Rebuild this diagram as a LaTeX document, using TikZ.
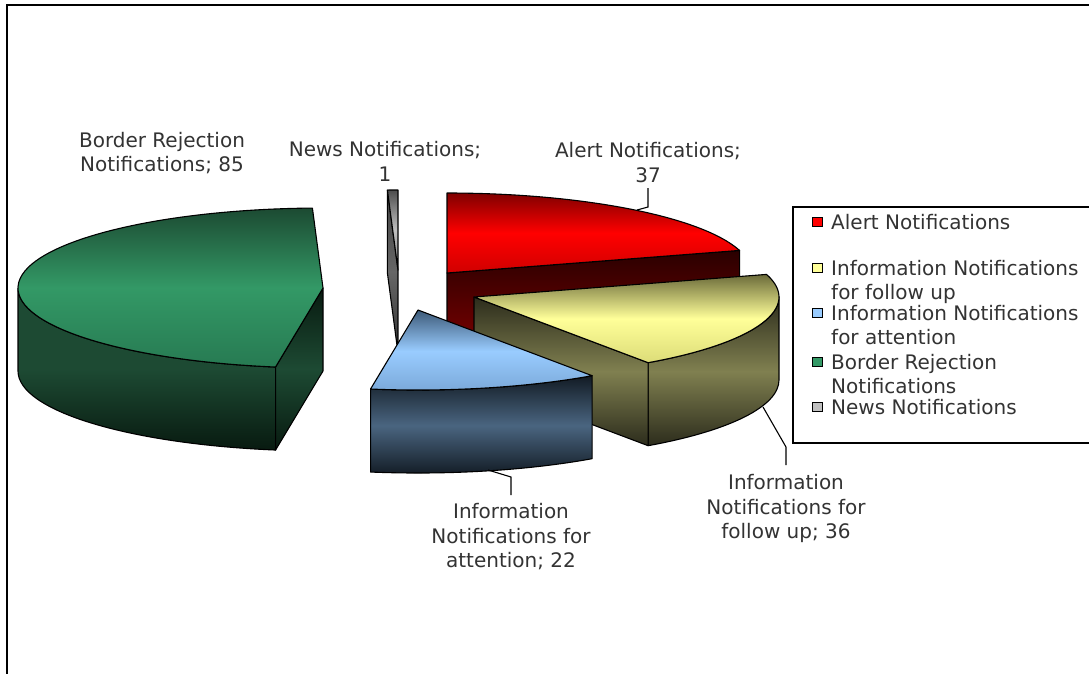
\documentclass[tikz,border=0pt]{standalone}
\usepackage{fontspec}
\setmainfont{DejaVu Sans}
\usetikzlibrary{calc}

\definecolor{redtop}{HTML}{800000}
\definecolor{redmid}{HTML}{FF0000}
\definecolor{redlow}{HTML}{D00000}
\definecolor{redsideA}{HTML}{2A0000}
\definecolor{redsideB}{HTML}{800000}
\definecolor{yeltop}{HTML}{6B6B3A}
\definecolor{yelmid}{HTML}{FFFF99}
\definecolor{yellow2}{HTML}{DCDC78}
\definecolor{yelside}{HTML}{808050}
\definecolor{yeldark}{HTML}{2C2C1C}
\definecolor{blutop}{HTML}{3D5A78}
\definecolor{blumid}{HTML}{99CCFF}
\definecolor{blulow}{HTML}{7AA8D8}
\definecolor{bluside}{HTML}{4A6580}
\definecolor{bludark}{HTML}{121B24}
\definecolor{grntop}{HTML}{1C4A32}
\definecolor{grnmid}{HTML}{339966}
\definecolor{grnlow}{HTML}{277A52}
\definecolor{grnside}{HTML}{1D4A33}
\definecolor{grndark}{HTML}{081A10}
\definecolor{graymid}{HTML}{C0C0C0}
\definecolor{txtgray}{HTML}{333333}

\begin{document}
\begin{tikzpicture}[x=1pt,y=-1pt]

\tikzset{
    slice/.style = {draw=black, line width=1.1pt, line join=round},
    rim/.style = {x radius=305, y radius=80},
    lbl/.style = {text=txtgray, font=\fontsize{20}{24.5}\selectfont, align=center, inner sep=0pt, anchor=north},
    keytxt/.style = {text=txtgray, font=\fontsize{20}{23.5}\selectfont, align=left, inner sep=0pt, anchor=north west},
    keybox/.style = {draw=black, line width=1pt, minimum width=10pt, minimum height=9pt, inner sep=0pt},
    pin/.style = {draw=black, line width=1.1pt}
}

\useasboundingbox (0,0) rectangle (1089,673);
\fill[white] (0,0) rectangle (1089,673);

% frame
\draw[line width=2pt] (1095,5) -- (7,5) -- (7,680);

% Border Rejection
\coordinate (g-c) at (323,288);
\path[slice, top color=grnside, bottom color=grndark, middle color=grnside]
    ($(g-c)+(-180:305 and 80)$) arc[rim, start angle=-180, end angle=-261.05]
    -- ++(0,83) arc[rim, start angle=-261.05, end angle=-180] -- cycle;
\path[slice, top color=grndark, bottom color=grndark, middle color=grnside]
    (g-c) -- ($(g-c)+(-261.05:305 and 80)$) -- ++(0,83) -- ($(g-c)+(0,83)$) -- cycle;
\path[slice, top color=grntop, bottom color=grnlow, middle color=grnmid]
    (g-c) -- ($(g-c)+(-91.99:305 and 80)$) arc[rim, start angle=-91.99, end angle=-261.05] -- cycle;

% News
\coordinate (n-c) at (398,270);
\path[slice, top color=black!75, bottom color=black!80, middle color=black!60]
    (n-c) -- ($(n-c)+(-91.99:305 and 80)$) -- ++(0,83) -- ($(n-c)+(0,83)$) -- cycle;
\path[slice, top color=black!70, bottom color=black!50, middle color=graymid]
    (n-c) -- ($(n-c)+(-90:305 and 80)$) arc[rim, start angle=-90, end angle=-91.99] -- cycle;

% Alert
\coordinate (a-c) at (447,273);
\path[slice, top color=redsideA, bottom color=redsideB]
    (a-c) -- ($(a-c)+(-16.41:305 and 80)$) -- ++(0,83) -- ($(a-c)+(0,83)$) -- cycle;
\path[slice, top color=redtop, bottom color=redlow, middle color=redmid]
    (a-c) -- ($(a-c)+(-16.41:305 and 80)$) arc[rim, start angle=-16.41, end angle=-90] -- cycle;

% follow up
\coordinate (f-c) at (474,297);
\path[slice, top color=yeldark, bottom color=yeldark, middle color=yelside]
    ($(f-c)+(0:305 and 80)$) arc[rim, start angle=0, end angle=55.19]
    -- ++(0,83) arc[rim, start angle=55.19, end angle=0] -- cycle;
\path[slice, top color=yeldark, bottom color=yeldark, middle color=yelside]
    (f-c) -- ($(f-c)+(55.19:305 and 80)$) -- ++(0,83) -- ($(f-c)+(0,83)$) -- cycle;
\path[slice, top color=yeltop, bottom color=yellow2, middle color=yelmid]
    (f-c) -- ($(f-c)+(-16.41:305 and 80)$) arc[rim, start angle=-16.41, end angle=55.19] -- cycle;

% attention
\coordinate (t-c) at (418,310);
\path[slice, top color=bludark, bottom color=bludark, middle color=bluside]
    ($(t-c)+(55.19:305 and 80)$) arc[rim, start angle=55.19, end angle=98.95]
    -- ++(0,83) arc[rim, start angle=98.95, end angle=55.19] -- cycle;
\path[slice, top color=blutop, bottom color=blulow, middle color=blumid]
    (t-c) -- ($(t-c)+(55.19:305 and 80)$) arc[rim, start angle=55.19, end angle=98.95] -- cycle;

% labels
\node (lbl-border) [lbl] at (162,132) {Border Rejection\\Notifications; 85};
\node (lbl-news) [lbl] at (385,141.5) {News Notifications;\\1};
\node (lbl-alert) [lbl] at (648,142.5) {Alert Notifications;\\37};
\node (lbl-follow) [lbl] at (786,474.5) {Information\\Notifications for\\follow up; 36};
\node (lbl-attn) [lbl] at (511,503.5) {Information\\Notifications for\\attention; 22};

\coordinate (pin-alert) at (637,210);
\coordinate (bend-alert) at (648,207);
\coordinate (end-alert) at (648,188);
\draw[pin] (pin-alert) -- (bend-alert) -- (end-alert);

\coordinate (pin-follow) at (763,407);
\coordinate (bend-follow) at (786,447);
\coordinate (end-follow) at (786,465);
\draw[pin] (pin-follow) -- (bend-follow) -- (end-follow);

\coordinate (pin-attn) at (488,470);
\coordinate (bend-attn) at (511,477);
\coordinate (end-attn) at (511,495);
\draw[pin] (pin-attn) -- (bend-attn) -- (end-attn);

% legend
\draw[line width=1.6pt] (1095,207) -- (793,207) -- (793,443) -- (1095,443);

\foreach \name/\col/\y/\txt in {alert/redmid/222/{Alert Notifications},
    follow/yelmid/268/{Information Notifications\\for follow up},
    attn/blumid/313/{Information Notifications\\for attention},
    border/grnmid/362/{Border Rejection\\Notifications},
    news/graymid/407/{News Notifications}}{
    \node (key-\name) [keybox, fill=\col] at (817,\y) {};
    \node (keytxt-\name) [keytxt] at (831,\y-7.5) {\txt};
}

\end{tikzpicture}
\end{document}
